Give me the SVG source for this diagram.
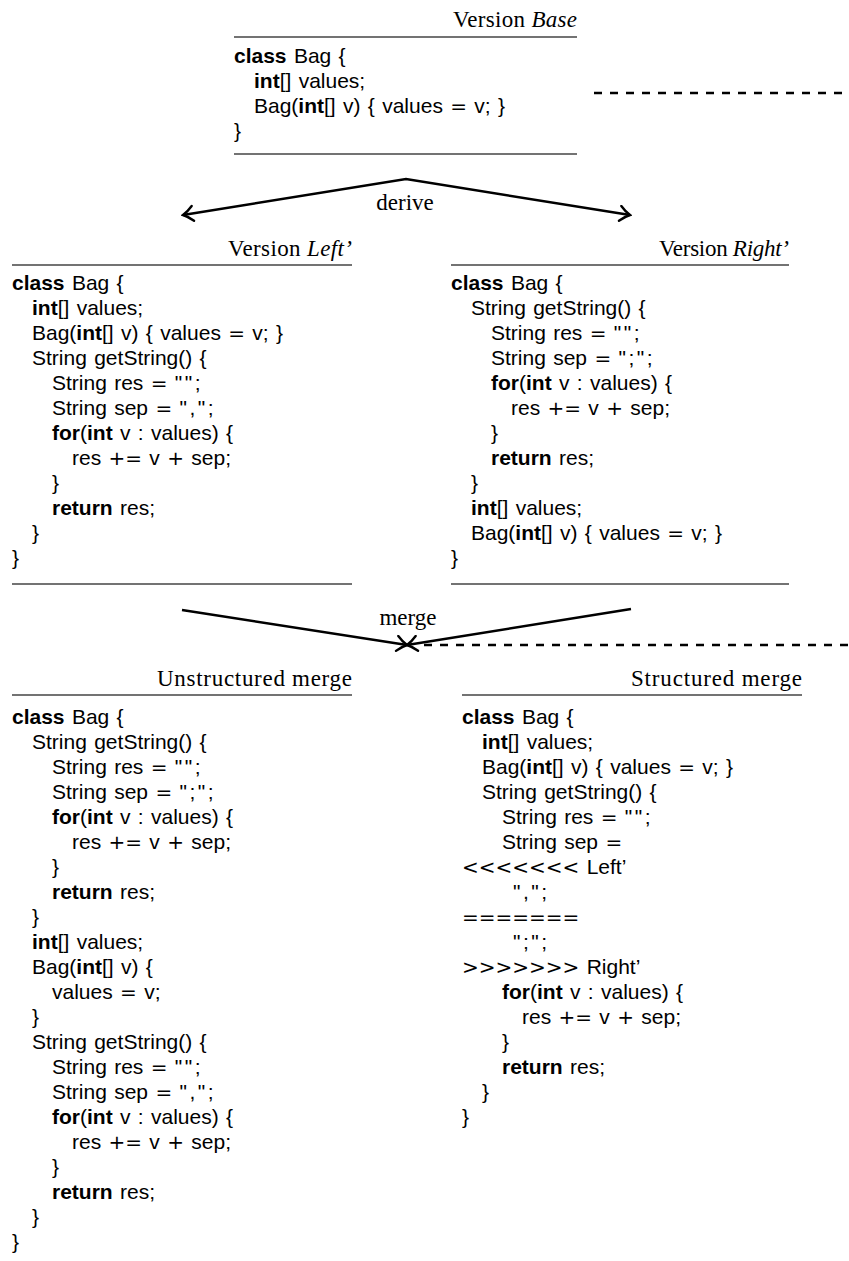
<svg xmlns="http://www.w3.org/2000/svg" width="849" height="1261" viewBox="0 0 849 1261">
  <style>
    .code { font-family: "Liberation Sans", Arial, sans-serif; font-size: 21px; fill: #000; word-spacing: 1.5px; }
    .k { font-weight: bold; }
    .o { font-family: "DejaVu Sans", sans-serif; font-size: 20px; }
    .q { letter-spacing: 2.5px; }
    .title { font-family: "Liberation Serif", "Times New Roman", serif; font-size: 23px; fill: #000; text-anchor: end; }
    .it { font-style: italic; }
    .label { font-family: "Liberation Serif", "Times New Roman", serif; font-size: 23px; fill: #000; text-anchor: middle; }
    .rule { stroke: #444; stroke-width: 1.3; fill: none; }
    .edge { stroke: #000; stroke-width: 2.5; fill: none; stroke-linejoin: miter; }
    .dash { stroke: #000; stroke-width: 2.6; fill: none; stroke-dasharray: 8 8; }
  </style>
  <defs>
    <marker id="to" markerUnits="userSpaceOnUse" viewBox="-12 -9 14 18" refX="0" refY="0" markerWidth="14" markerHeight="18" orient="auto-start-reverse">
      <path d="M -10 -7.5 C -5.5 -3 -2 -1 0 0 C -2 1 -5.5 3 -10 7.5" fill="none" stroke="#000" stroke-width="2.4" stroke-linecap="round"/>
    </marker>
  </defs>

  <!-- version Base -->
  <g id="base">
    <text class="title" x="577" y="27" textLength="124">Version <tspan class="it">Base</tspan></text>
    <line class="rule" x1="234" y1="37" x2="577" y2="37"/>
    <text class="code" x="234" y="63"><tspan class="k">class</tspan> Bag {</text>
    <text class="code" x="254" y="88"><tspan class="k">int</tspan>[] values;</text>
    <text class="code" x="254" y="113">Bag(<tspan class="k">int</tspan>[] v) { values <tspan class="o">=</tspan> v; }</text>
    <text class="code" x="234" y="138">}</text>
    <line class="rule" x1="234" y1="154" x2="577" y2="154"/>
  </g>

  <!-- version Left' -->
  <g id="left">
    <text class="title" x="352" y="256" textLength="124">Version <tspan class="it">Left’</tspan></text>
    <line class="rule" x1="12" y1="265" x2="352" y2="265"/>
    <text class="code" x="12" y="290"><tspan class="k">class</tspan> Bag {</text>
    <text class="code" x="32" y="315"><tspan class="k">int</tspan>[] values;</text>
    <text class="code" x="32" y="340">Bag(<tspan class="k">int</tspan>[] v) { values <tspan class="o">=</tspan> v; }</text>
    <text class="code" x="32" y="365">String getString() {</text>
    <text class="code" x="52" y="390">String res <tspan class="o">=</tspan> <tspan class="q">""</tspan>;</text>
    <text class="code" x="52" y="415">String sep <tspan class="o">=</tspan> <tspan class="q">","</tspan>;</text>
    <text class="code" x="52" y="440"><tspan class="k">for</tspan>(<tspan class="k">int</tspan> v : values) {</text>
    <text class="code" x="72" y="465">res <tspan class="o">+=</tspan> v <tspan class="o">+</tspan> sep;</text>
    <text class="code" x="52" y="490">}</text>
    <text class="code" x="52" y="515"><tspan class="k">return</tspan> res;</text>
    <text class="code" x="32" y="540">}</text>
    <text class="code" x="12" y="565">}</text>
    <line class="rule" x1="12" y1="584" x2="352" y2="584"/>
  </g>

  <!-- version Right' -->
  <g id="right">
    <text class="title" x="789" y="256" textLength="130">Version <tspan class="it">Right’</tspan></text>
    <line class="rule" x1="451" y1="265" x2="789" y2="265"/>
    <text class="code" x="451" y="290"><tspan class="k">class</tspan> Bag {</text>
    <text class="code" x="471" y="315">String getString() {</text>
    <text class="code" x="491" y="340">String res <tspan class="o">=</tspan> <tspan class="q">""</tspan>;</text>
    <text class="code" x="491" y="365">String sep <tspan class="o">=</tspan> <tspan class="q">";"</tspan>;</text>
    <text class="code" x="491" y="390"><tspan class="k">for</tspan>(<tspan class="k">int</tspan> v : values) {</text>
    <text class="code" x="511" y="415">res <tspan class="o">+=</tspan> v <tspan class="o">+</tspan> sep;</text>
    <text class="code" x="491" y="440">}</text>
    <text class="code" x="491" y="465"><tspan class="k">return</tspan> res;</text>
    <text class="code" x="471" y="490">}</text>
    <text class="code" x="471" y="515"><tspan class="k">int</tspan>[] values;</text>
    <text class="code" x="471" y="540">Bag(<tspan class="k">int</tspan>[] v) { values <tspan class="o">=</tspan> v; }</text>
    <text class="code" x="451" y="565">}</text>
    <line class="rule" x1="451" y1="584" x2="789" y2="584"/>
  </g>

  <!-- unstructured merge result -->
  <g id="unstructured">
    <text class="title" x="352" y="686" textLength="195">Unstructured merge</text>
    <line class="rule" x1="12" y1="695" x2="352" y2="695"/>
    <text class="code" x="12" y="724"><tspan class="k">class</tspan> Bag {</text>
    <text class="code" x="32" y="749">String getString() {</text>
    <text class="code" x="52" y="774">String res <tspan class="o">=</tspan> <tspan class="q">""</tspan>;</text>
    <text class="code" x="52" y="799">String sep <tspan class="o">=</tspan> <tspan class="q">";"</tspan>;</text>
    <text class="code" x="52" y="824"><tspan class="k">for</tspan>(<tspan class="k">int</tspan> v : values) {</text>
    <text class="code" x="72" y="849">res <tspan class="o">+=</tspan> v <tspan class="o">+</tspan> sep;</text>
    <text class="code" x="52" y="874">}</text>
    <text class="code" x="52" y="899"><tspan class="k">return</tspan> res;</text>
    <text class="code" x="32" y="924">}</text>
    <text class="code" x="32" y="949"><tspan class="k">int</tspan>[] values;</text>
    <text class="code" x="32" y="974">Bag(<tspan class="k">int</tspan>[] v) {</text>
    <text class="code" x="52" y="999">values <tspan class="o">=</tspan> v;</text>
    <text class="code" x="32" y="1024">}</text>
    <text class="code" x="32" y="1049">String getString() {</text>
    <text class="code" x="52" y="1074">String res <tspan class="o">=</tspan> <tspan class="q">""</tspan>;</text>
    <text class="code" x="52" y="1099">String sep <tspan class="o">=</tspan> <tspan class="q">","</tspan>;</text>
    <text class="code" x="52" y="1124"><tspan class="k">for</tspan>(<tspan class="k">int</tspan> v : values) {</text>
    <text class="code" x="72" y="1149">res <tspan class="o">+=</tspan> v <tspan class="o">+</tspan> sep;</text>
    <text class="code" x="52" y="1174">}</text>
    <text class="code" x="52" y="1199"><tspan class="k">return</tspan> res;</text>
    <text class="code" x="32" y="1224">}</text>
    <text class="code" x="12" y="1249">}</text>
  </g>

  <!-- structured merge result -->
  <g id="structured">
    <text class="title" x="802" y="686" textLength="171">Structured merge</text>
    <line class="rule" x1="462" y1="695" x2="802" y2="695"/>
    <text class="code" x="462" y="724"><tspan class="k">class</tspan> Bag {</text>
    <text class="code" x="482" y="749"><tspan class="k">int</tspan>[] values;</text>
    <text class="code" x="482" y="774">Bag(<tspan class="k">int</tspan>[] v) { values <tspan class="o">=</tspan> v; }</text>
    <text class="code" x="482" y="799">String getString() {</text>
    <text class="code" x="502" y="824">String res <tspan class="o">=</tspan> <tspan class="q">""</tspan>;</text>
    <text class="code" x="502" y="849">String sep <tspan class="o">=</tspan></text>
    <text class="code" x="462" y="874"><tspan class="o">&lt;&lt;&lt;&lt;&lt;&lt;&lt;</tspan> Left’</text>
    <text class="code" x="513" y="899"><tspan class="q">","</tspan>;</text>
    <text class="code" x="462" y="924"><tspan class="o">=======</tspan></text>
    <text class="code" x="513" y="949"><tspan class="q">";"</tspan>;</text>
    <text class="code" x="462" y="974"><tspan class="o">&gt;&gt;&gt;&gt;&gt;&gt;&gt;</tspan> Right’</text>
    <text class="code" x="502" y="999"><tspan class="k">for</tspan>(<tspan class="k">int</tspan> v : values) {</text>
    <text class="code" x="522" y="1024">res <tspan class="o">+=</tspan> v <tspan class="o">+</tspan> sep;</text>
    <text class="code" x="502" y="1049">}</text>
    <text class="code" x="502" y="1074"><tspan class="k">return</tspan> res;</text>
    <text class="code" x="482" y="1099">}</text>
    <text class="code" x="462" y="1124">}</text>
  </g>

  <!-- connectors -->
  <g id="connectors">
    <path class="edge" d="M183 215 L406 179 L630 215" marker-start="url(#to)" marker-end="url(#to)"/>
    <text class="label" x="405" y="210">derive</text>
    <path class="edge" d="M182 610 L407 645" marker-end="url(#to)"/>
    <path class="edge" d="M631 609 L407 645" marker-end="url(#to)"/>
    <text class="label" x="408" y="625">merge</text>
    <path class="dash" d="M594 93 H849"/>
    <path class="dash" d="M424 645 H849"/>
  </g>
</svg>
